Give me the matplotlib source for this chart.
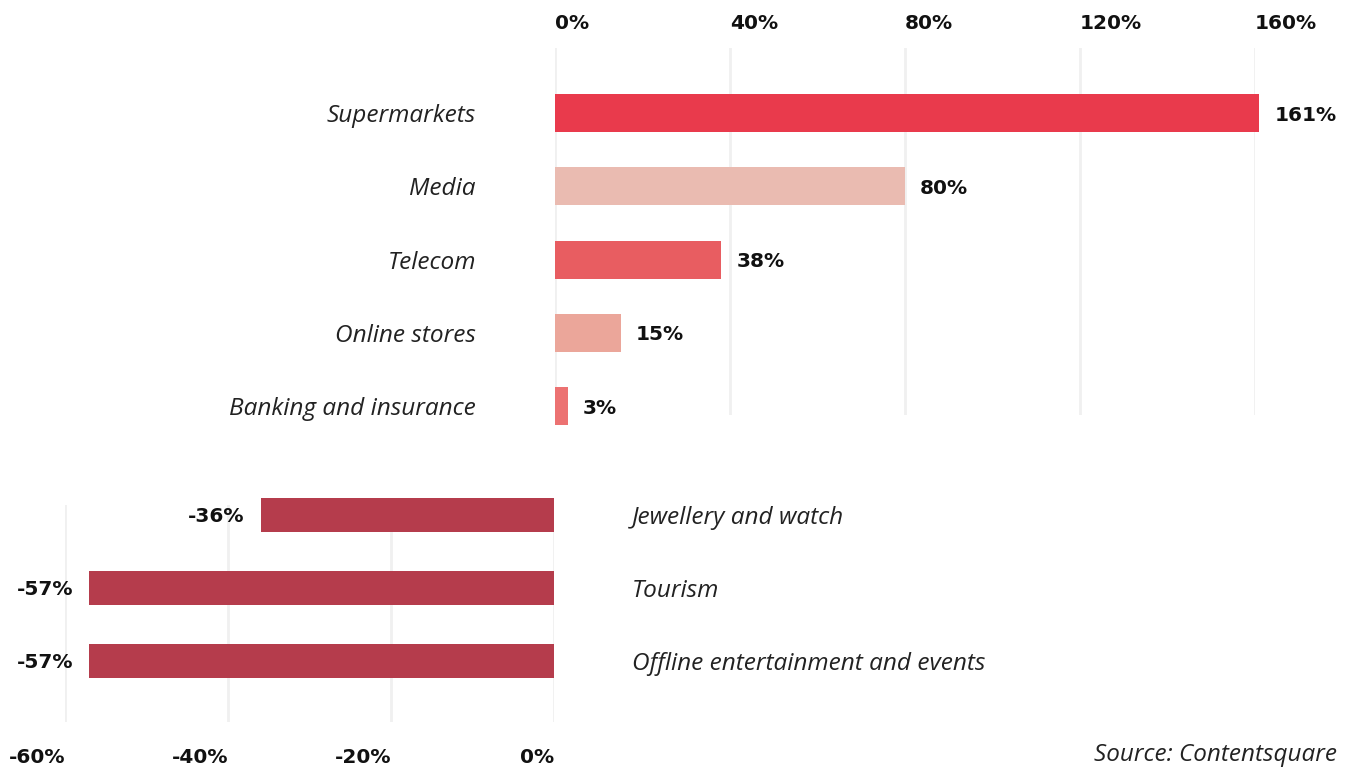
import matplotlib
matplotlib.use("Agg")
import matplotlib.pyplot as plt

plt.rcParams['font.family'] = ['Open Sans', 'DejaVu Sans']

# Sectors that grew
up_labels = ["Supermarkets", "Media", "Telecom", "Online stores", "Banking and insurance"]
up_values = [161, 80, 38, 15, 3]
up_colors = ["#E93A4C", "#EABBB1", "#E85D61", "#EBA69A", "#EC7272"]
up_ticks = [0, 40, 80, 120, 160]

# Sectors that declined
down_labels = ["Jewellery and watch", "Tourism", "Offline entertainment and events"]
down_values = [-36, -57, -57]
down_color = "#B53C4C"
down_ticks = [-60, -40, -20, 0]

W, H = 1348, 768
fig = plt.figure(figsize=(W / 100, H / 100), dpi=100)
fig.patch.set_facecolor("white")

def frac_box(x0, y0, x1, y1):
    return [x0 / W, 1 - y1 / H, (x1 - x0) / W, (y1 - y0) / H]

grid_color = "#F0F0F0"
num_font = ["DejaVu Sans"]
label_kw = dict(fontsize=17.6, style="italic", fontweight="normal", color="#222222")
value_kw = dict(fontsize=14.5, fontweight="bold", color="#111111", family=num_font)
tick_kw = dict(fontsize=14.5, fontweight="bold", color="#111111", family=num_font)

# ---- upper panel ----
ax1 = fig.add_axes(frac_box(555, 48, 1255, 415))
ypos = list(range(len(up_values)))
ax1.barh(ypos, up_values, height=0.52, color=up_colors, clip_on=False, zorder=3)
ax1.set_xlim(0, 160)
ax1.set_ylim(4.12, -0.887)
ax1.set_xticks(up_ticks)
ax1.set_xticklabels([f"{t}%" for t in up_ticks], ha="left", **tick_kw)
ax1.xaxis.tick_top()
ax1.tick_params(axis="x", length=0, pad=11)
ax1.set_yticks([])
ax1.grid(axis="x", color=grid_color, linewidth=2, zorder=0)
for s in ax1.spines.values():
    s.set_visible(False)
for y, v, name in zip(ypos, up_values, up_labels):
    ax1.annotate(f"{v}%", (v, y), xytext=(15, 0), textcoords="offset pixels",
                 ha="left", va="center_baseline", annotation_clip=False, **value_kw)
    ax1.annotate(name, (0, y), xytext=(-79, 0), textcoords="offset pixels",
                 ha="right", va="center_baseline", annotation_clip=False, **label_kw)

# ---- lower panel ----
ax2 = fig.add_axes(frac_box(65, 505, 554, 722))
ypos2 = list(range(len(down_values)))
ax2.barh(ypos2, down_values, height=0.47, color=down_color, clip_on=False, zorder=3)
ax2.set_xlim(-60, 0)
ax2.set_ylim(2.836, -0.137)
ax2.set_xticks(down_ticks)
ax2.set_xticklabels([f"{t}%" for t in down_ticks], ha="right", **tick_kw)
ax2.tick_params(axis="x", length=0, pad=19)
ax2.set_yticks([])
ax2.grid(axis="x", color=grid_color, linewidth=2, zorder=0)
for s in ax2.spines.values():
    s.set_visible(False)
for y, v, name in zip(ypos2, down_values, down_labels):
    ax2.annotate(f"{v}%", (v, y), xytext=(-16, 0), textcoords="offset pixels",
                 ha="right", va="center_baseline", annotation_clip=False, **value_kw)
    ax2.annotate(name, (0, y), xytext=(78, 0), textcoords="offset pixels",
                 ha="left", va="center_baseline", annotation_clip=False, **label_kw)

fig.text(1337 / W, 1 - 752 / H, "Source: Contentsquare", ha="right", va="center_baseline",
         fontsize=17.5, style="italic", color="#222222")

fig.savefig("out.png", dpi=100, facecolor="white")
